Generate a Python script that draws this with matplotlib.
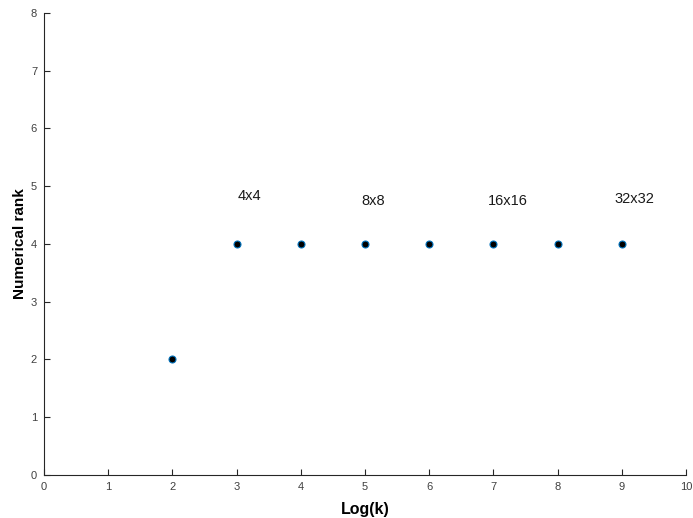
import matplotlib
matplotlib.use("Agg")
import matplotlib.pyplot as plt

plt.rcParams['font.family'] = ['Liberation Sans', 'DejaVu Sans']

log_k = [2, 3, 4, 5, 6, 7, 8, 9]
rank = [2, 4, 4, 4, 4, 4, 4, 4]
ann_text = ["4x4", "8x8", "16x16", "32x32"]
ann_x = [3.02, 4.95, 6.92, 8.88]
ann_y = [4.83, 4.74, 4.74, 4.78]

fig = plt.figure(figsize=(6.93, 5.18), dpi=100)
ax = fig.add_axes([0.0635, 0.083, 0.9264, 0.892])
ax.plot(log_k, rank, linestyle='none', marker='o', markersize=5,
        markerfacecolor='black', markeredgecolor='#0072BD', markeredgewidth=0.8)
for t, x, y in zip(ann_text, ann_x, ann_y):
    ax.text(x, y, t, fontsize=10.5, ha='left', va='center', color='#1a1a1a')

ax.set_xlim(0, 10)
ax.set_ylim(0, 8)
ax.set_xticks(range(0, 11))
ax.set_yticks(range(0, 9))
ax.spines['top'].set_visible(False)
ax.spines['right'].set_visible(False)
for s in ['left', 'bottom']:
    ax.spines[s].set_color('#262626')
    ax.spines[s].set_linewidth(0.8)
ax.tick_params(direction='in', length=4, width=0.8, colors='#262626', labelsize=8, labelcolor='#404040')
ax.tick_params(axis='x', pad=5)
ax.tick_params(axis='y', pad=5)
ax.set_xlabel('Log(k)', fontsize=11.5, fontweight='bold', labelpad=7)
ax.set_ylabel('Numerical rank', fontsize=11, fontweight='bold', labelpad=3)
fig.savefig('out.png', dpi=100)
